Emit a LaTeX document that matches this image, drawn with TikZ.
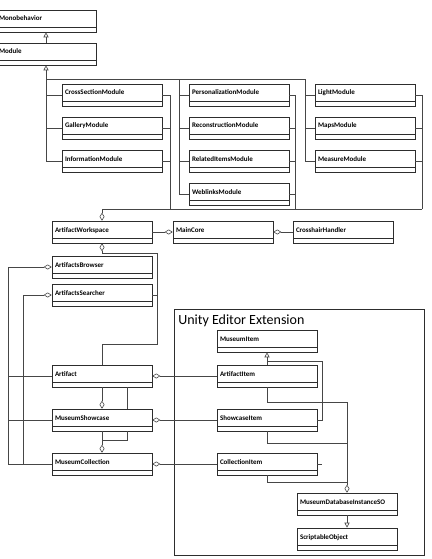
\documentclass[tikz,border=0pt]{standalone}
\usepackage{fontspec}
\setmainfont{Carlito}
\usetikzlibrary{arrows.meta}
\definecolor{umlline}{RGB}{70,70,70}
\definecolor{umlbox}{RGB}{45,45,45}

\begin{document}
\begin{tikzpicture}[x=1pt,y=-1pt,line width=0.6pt,
  cls/.style={draw=umlbox,fill=white,minimum width=100pt,minimum height=22pt,
    inner xsep=3pt,inner ysep=0pt,text width=94pt,align=left,
    text height=4.5pt,text depth=4.5pt,font=\fontsize{7}{8}\selectfont\bfseries,
    path picture={\draw[umlbox] ([yshift=4.5pt]path picture bounding box.south west)
      -- ([yshift=4.5pt]path picture bounding box.south east);}},
  agg/.style={draw=umlline,-{Diamond[open,length=8pt,width=5pt]}},
  inh/.style={draw=umlline,-{Triangle[open,length=5pt,width=5pt]}},
  wire/.style={draw=umlline}]
  \useasboundingbox (0,0) rectangle (431,559);
  % editor frame
  \draw[umlbox] (174,309) rectangle (424,555);
  \node[anchor=west,inner sep=0pt,font=\fontsize{14}{16}\selectfont] (uee) at (178,321) {Unity Editor Extension};
  % classes
  \node[cls] (mono) at (46,21) {Monobehavior};
  \node[cls] (mod) at (46,54) {Module};
  \node[cls] (cs) at (112,95) {CrossSectionModule};
  \node[cls] (gal) at (112,128) {GalleryModule};
  \node[cls] (inf) at (112,161) {InformationModule};
  \node[cls] (pers) at (239,95) {PersonalizationModule};
  \node[cls] (rec) at (239,128) {ReconstructionModule};
  \node[cls] (rel) at (239,161) {RelatedItemsModule};
  \node[cls] (web) at (239,194) {WeblinksModule};
  \node[cls] (light) at (365,95) {LightModule};
  \node[cls] (maps) at (365,128) {MapsModule};
  \node[cls] (meas) at (365,161) {MeasureModule};
  \node[cls] (aw) at (102,232) {ArtifactWorkspace};
  \node[cls] (mc) at (223,232) {MainCore};
  \node[cls] (ch) at (343,232) {CrosshairHandler};
  \node[cls] (ab) at (102,267) {ArtifactsBrowser};
  \node[cls] (as) at (102,295) {ArtifactsSearcher};
  \node[cls] (art) at (102,376) {Artifact};
  \node[cls] (ms) at (102,420) {MuseumShowcase};
  \node[cls] (mcol) at (102,464) {MuseumCollection};
  \node[cls] (mi) at (267,341) {MuseumItem};
  \node[cls] (ai) at (267,376) {ArtifactItem};
  \node[cls] (si) at (267,420) {ShowcaseItem};
  \node[cls] (ci) at (267,464) {CollectionItem};
  \node[cls] (mdb) at (347,504) {MuseumDatabaseInstanceSO};
  \node[cls] (so) at (347,539) {ScriptableObject};
  % junctions
  \coordinate (tM) at (179,79);
  \coordinate (tR) at (305,79);
  \coordinate (bL) at (170,209);
  \coordinate (bM) at (295,209);
  \coordinate (bR) at (422,209);
  \coordinate (j1) at (157,253);
  \coordinate (j2) at (157,344);
  \coordinate (k1) at (127,440);
  \coordinate (l1) at (8,267);
  \coordinate (l2) at (23,295);
  \coordinate (m1) at (322,361);
  \coordinate (d1) at (347,402);
  \coordinate (d2) at (347,443);
  \coordinate (d3) at (347,482);
  % inheritance
  \draw[inh] (mod.north) -- (mono.south);
  \draw[inh] (inf.west) -| (mod.south);
  \draw[wire] (cs.west) -- (cs.west -| mod.south);
  \draw[wire] (gal.west) -- (gal.west -| mod.south);
  \draw[wire] (mod.south |- tM) -- (tR);
  \draw[wire] (web.west) -| (tM);
  \draw[wire] (pers.west) -- (pers.west -| tM);
  \draw[wire] (rec.west) -- (rec.west -| tM);
  \draw[wire] (rel.west) -- (rel.west -| tM);
  \draw[wire] (meas.west) -| (tR);
  \draw[wire] (light.west) -- (light.west -| tR);
  \draw[wire] (maps.west) -- (maps.west -| tR);
  % modules aggregated by the workspace
  \draw[agg] (bR) -- (aw.north |- bR) -- (aw.north);
  \draw[wire] (cs.east) -| (bL);
  \draw[wire] (gal.east) -- (gal.east -| bL);
  \draw[wire] (inf.east) -- (inf.east -| bL);
  \draw[wire] (pers.east) -| (bM);
  \draw[wire] (rec.east) -- (rec.east -| bM);
  \draw[wire] (rel.east) -- (rel.east -| bM);
  \draw[wire] (web.east) -- (web.east -| bM);
  \draw[wire] (light.east) -| (bR);
  \draw[wire] (maps.east) -- (maps.east -| bR);
  \draw[wire] (meas.east) -- (meas.east -| bR);
  % core
  \draw[agg] (aw.east) -- (mc.west);
  \draw[agg] (ch.west) -- (mc.east);
  % workspace side
  \draw[agg] (art.north) |- (j2) -- (j1) -| (aw.south);
  \draw[wire] (as.east) -- (as.east -| j1);
  \draw[agg] (mcol.west) -| (l1) -- (ab.west);
  \draw[wire] (art.west) -- (art.west -| l1);
  \draw[wire] (ms.west) -- (ms.west -| l1);
  \draw[agg] (mcol.west -| l2) -- (l2) -- (as.west);
  % museum hierarchy
  \draw[agg] (art.south) -- (ms.north);
  \draw[agg] (ms.south) -- (mcol.north);
  \draw[wire] ([xshift=25pt]art.south) -- ([xshift=25pt]ms.north);
  \draw[wire] ([xshift=25pt]ms.south) -- (k1) -- (k1 -| ms.south);
  \draw[agg] (ai.west) -- (art.east);
  \draw[agg] (si.west) -- (ms.east);
  \draw[agg] (ci.west) -- (mcol.east);
  % editor items
  \draw[inh] (ai.north) -- (mi.south);
  \draw[wire] (si.east) -| (m1) -- (m1 -| mi.south);
  \draw[wire] (ci.east) -- (ci.east -| m1);
  \draw[agg] (ai.south) |- (d1) -- (mdb.north);
  \draw[wire] (si.south) |- (d2);
  \draw[wire] (ci.south) |- (d3);
  \draw[inh] (mdb.south) -- (so.north);
\end{tikzpicture}
\end{document}
